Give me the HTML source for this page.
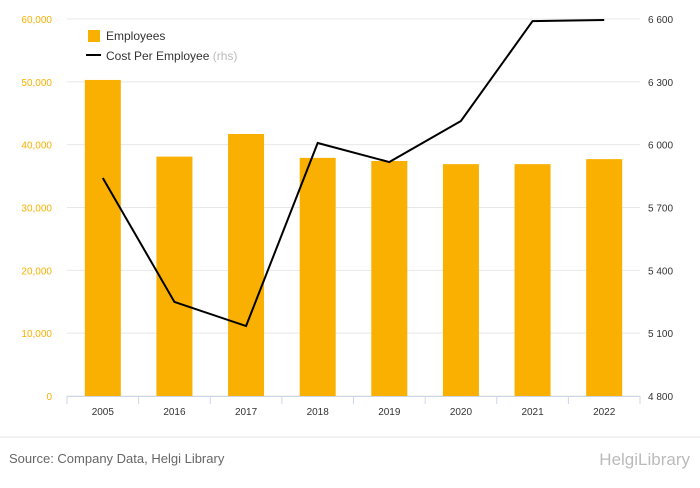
<!DOCTYPE html>
<html><head><meta charset="utf-8"><style>
body{margin:0;background:#fff;font-family:"Liberation Sans",sans-serif;}
svg text{font-family:"Liberation Sans",sans-serif;}
</style></head><body>
<svg width="700" height="483" xmlns="http://www.w3.org/2000/svg">
<g id="grid"></g>
<g id="bars"></g>
<g id="line"></g>
<g id="axes"></g>
<g>
<rect x="88" y="30" width="12" height="12" fill="#f9b000"/>
<text x="106" y="40" font-size="12" fill="#333">Employees</text>
<line x1="86" y1="55" x2="101" y2="55" stroke="#000" stroke-width="2"/>
<text x="106" y="60" font-size="12" fill="#333">Cost Per Employee <tspan fill="#bbb">(rhs)</tspan></text>
</g>
<line x1="0" y1="437" x2="700" y2="437" stroke="#e6e6e6"/>
<text x="9" y="463" font-size="13" fill="#666">Source: Company Data, Helgi Library</text>
<text x="690" y="465" font-size="17" fill="#bbb" text-anchor="end">HelgiLibrary</text>
</svg>
<script>
const categories=["2005","2016","2017","2018","2019","2020","2021","2022"];
const employees=[50300,38100,41700,37900,37400,36900,36900,37700];
const costPerEmployee=[5841,5249,5134,6008,5917,6113,6590,6595];
const leftTicks=[0,10000,20000,30000,40000,50000,60000];
const rightTicks=[4800,5100,5400,5700,6000,6300,6600];
const NS="http://www.w3.org/2000/svg";
const x0=67,x1=640,yb=396,yt=19;
const band=(x1-x0)/categories.length;
const xc=i=>x0+band*(i+0.5);
const yL=v=>yb-(v/60000)*(yb-yt);
const yR=v=>yb-((v-4800)/1800)*(yb-yt);
function mk(t,a,p){const e=document.createElementNS(NS,t);for(const k in a)e.setAttribute(k,a[k]);p.appendChild(e);return e;}
const grid=document.getElementById('grid'),bars=document.getElementById('bars'),line=document.getElementById('line'),axes=document.getElementById('axes');
leftTicks.forEach((v,i)=>{
 const g=mk('line',{x1:x0,x2:x1,y1:yL(v),y2:yL(v),stroke:'#e8e8e8'},grid);
 
 
 const t=mk('text',{x:52,y:yL(v)+4,'font-size':10,fill:'#f9b000','text-anchor':'end'},axes);
 t.textContent=v.toLocaleString('en-US');
 
 
});
rightTicks.forEach(v=>{
 const t=mk('text',{x:648,y:yR(v)+4,'font-size':10,fill:'#333'},axes);
 t.textContent=String(v).replace(/(\d)(\d{3})$/,'$1 $2');
 
 
});
mk('line',{x1:x0,x2:x1,y1:yb+0.5,y2:yb+0.5,stroke:'#ccd6eb'},axes);
categories.forEach((c,i)=>{
 const b=mk('rect',{x:xc(i)-18,y:yL(employees[i]),width:36,height:yb-yL(employees[i]),fill:'#f9b000'},bars);
 
 
 const tk=mk('line',{x1:x0+band*i,x2:x0+band*i,y1:yb,y2:yb+8,stroke:'#ccd6eb'},axes);
 
 
 const t=mk('text',{x:xc(i),y:yb+19,'font-size':10,fill:'#333','text-anchor':'middle'},axes);
 t.textContent=c;
 
 
});
const end=mk('line',{x1:x1,x2:x1,y1:yb,y2:yb+8,stroke:'#ccd6eb'},axes);


const pts=costPerEmployee.map((v,i)=>xc(i)+','+yR(v)).join(' ');
const pl=mk('polyline',{points:pts,fill:'none',stroke:'#000','stroke-width':2},line);


</script>
</body></html>
